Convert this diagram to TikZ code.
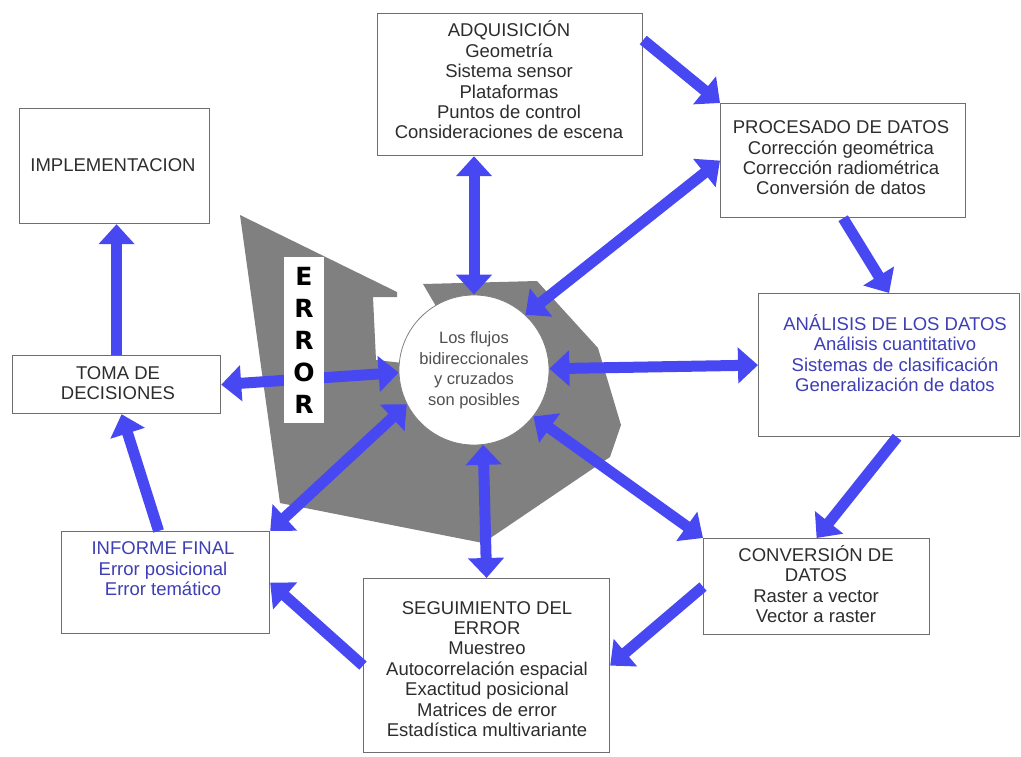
\documentclass[tikz,border=0pt]{standalone}
\usepackage{fontspec}
\setmainfont{Liberation Sans}
\newfontfamily\errfont{DejaVu Sans}
\usetikzlibrary{arrows.meta}

\definecolor{flowblue}{RGB}{72,72,242}
\definecolor{zonegray}{RGB}{128,128,128}
\definecolor{boxgray}{RGB}{110,110,110}
\definecolor{txtgray}{RGB}{45,45,45}
\definecolor{txtblue}{RGB}{62,62,182}
\definecolor{hubtxt}{RGB}{80,80,80}

\tikzset{
  box/.style={draw=boxgray, line width=1.2pt, fill=white, inner sep=0pt, anchor=north west},
  txt/.style={align=center, inner sep=0pt, text=txtgray, font=\fontsize{18.5}{20.4}\selectfont},
  bluetxt/.style={txt, text=txtblue},
  flow/.style={draw=flowblue, line width=11pt, -{Triangle[width=35pt,length=20pt]}},
  both/.style={draw=flowblue, line width=11pt, {Triangle[width=35pt,length=20pt]}-{Triangle[width=35pt,length=20pt]}},
  hubnode/.style={circle, fill=white, draw=gray, line width=0.8pt, minimum size=150pt, inner sep=0pt,
    align=center, text=hubtxt, font=\fontsize{16.5}{20.5}\selectfont},
  errbox/.style={fill=white, minimum width=40pt, minimum height=166pt, inner sep=0pt, align=center,
    font=\errfont\bfseries\fontsize{25}{32}\selectfont}
}

\begin{document}
\begin{tikzpicture}[x=1pt, y=-1pt]
\useasboundingbox (0,0) rectangle (1021,756);

% gray error zone around the central circle
\fill[zonegray] (240,215) -- (397,292) -- (397,297) -- (373,297) -- (376,360) -- (474,371)
  -- (423,284) -- (537,281) -- (598,348) -- (621,425) -- (610,457) -- (483,543) -- (280,503) -- cycle;

% boxes
\node[box, minimum width=265pt, minimum height=142pt] (adq) at (377,13) {};
\node[box, minimum width=245pt, minimum height=114pt] (proc) at (720,103) {};
\node[box, minimum width=261pt, minimum height=143pt] (ana) at (758,293) {};
\node[box, minimum width=226pt, minimum height=96pt] (conv) at (703,538) {};
\node[box, minimum width=246pt, minimum height=174pt] (seg) at (363,578) {};
\node[box, minimum width=208pt, minimum height=102pt] (inf) at (61,531) {};
\node[box, minimum width=208pt, minimum height=58pt] (toma) at (12,355) {};
\node[box, minimum width=190pt, minimum height=115pt] (impl) at (19,108) {};

% box texts
\node[txt] (adq-t) at (509,80) {ADQUISICIÓN\\Geometría\\Sistema sensor\\Plataformas\\Puntos de control\\Consideraciones de escena};
\node[txt] (proc-t) at (841,158) {PROCESADO DE DATOS\\Corrección geométrica\\Corrección radiométrica\\Conversión de datos};
\node[bluetxt] (ana-t) at (895,353) {ANÁLISIS DE LOS DATOS\\Análisis cuantitativo\\Sistemas de clasificación\\Generalización de datos};
\node[txt] (conv-t) at (816,584) {CONVERSIÓN DE\\DATOS\\Raster a vector\\Vector a raster};
\node[txt] (seg-t) at (487,669) {SEGUIMIENTO DEL\\ERROR\\Muestreo\\Autocorrelación espacial\\Exactitud posicional\\Matrices de error\\Estadística multivariante};
\node[bluetxt] (inf-t) at (163,569) {INFORME FINAL\\Error posicional\\Error temático};
\node[txt] (toma-t) at (118,383) {TOMA DE\\DECISIONES};
\node[txt] (impl-t) at (113,165) {IMPLEMENTACION};

% central circle
\node[hubnode] (hub) at (474,370) {Los flujos\\bidireccionales\\y cruzados\\son posibles};

% flows along the cycle
\draw[flow] ([yshift=-27pt]adq.north east) -- (proc.north west);
\draw[flow] (proc.south) -- (ana.north);
\draw[flow] ([xshift=8pt]ana.south) -- (conv.north);
\draw[flow] (conv.west) -- (seg.east);
\draw[flow] (seg.west) -- (inf.east);
\draw[flow] ([xshift=-7pt]inf.north) -- ([xshift=5pt]toma.south);
\draw[flow] (toma.north) -- (toma.north |- impl.south);

% two-way flows with the centre
\draw[both] (adq.south -| hub) -- (hub.90);
\draw[both] (proc.west) -- (hub.47);
\draw[both] (ana.west) -- (hub.1);
\draw[both] (conv.north west) -- (hub.-38);
\draw[both] (seg.north) -- (hub.-83);
\draw[both] (inf.north east) -- (hub.207);
\draw[both] (toma.east) -- (hub.182);

% error label
\node[errbox] (err) at (304,340) {E\\R\\R\\O\\R};
\end{tikzpicture}
\end{document}
